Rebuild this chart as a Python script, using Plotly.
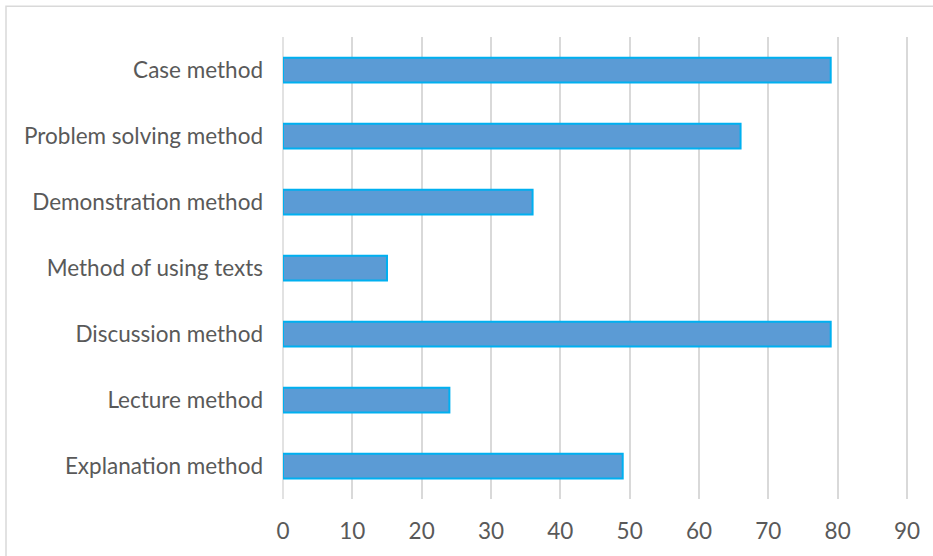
import plotly.graph_objects as go

categories = ["Explanation method", "Lecture method", "Discussion method",
              "Method of using texts", "Demonstration method",
              "Problem solving method", "Case method"]
values = [49, 24, 79, 15, 36, 66, 79]
x_ticks = [0, 10, 20, 30, 40, 50, 60, 70, 80, 90]

W, H = 933, 556
L, R, T, B = 283, 25, 37, 52
pw, ph = W - L - R, H - T - B

fig = go.Figure(go.Bar(
    x=values, y=categories, orientation="h",
    marker=dict(color="#5B9BD5", line=dict(color="#00B0F0", width=2)),
))

font = dict(family="Lato, Liberation Sans, sans-serif", size=22.5, color="#595959")

fig.update_layout(
    width=W, height=H,
    margin=dict(l=L, r=R, t=T, b=B),
    paper_bgcolor="white", plot_bgcolor="white",
    bargap=0.625,
    showlegend=False,
    font=font,
    xaxis=dict(range=[0, 90.15], tickvals=x_ticks, showgrid=True,
               gridcolor="#D9D9D9", gridwidth=1.5, zeroline=False,
               showline=False, ticks="", ticklabelstandoff=16,
               tickfont=font, fixedrange=True),
    yaxis=dict(categoryorder="array", categoryarray=categories,
               showgrid=False, zeroline=False, showline=False,
               ticks="", ticklabelstandoff=19, tickfont=font,
               fixedrange=True),
    shapes=[
        dict(type="line", xref="paper", yref="paper",
             x0=0, x1=0, y0=0, y1=1,
             line=dict(color="#D9D9D9", width=1.5), layer="below"),
        dict(type="rect", xref="paper", yref="paper",
             x0=(6 - L) / pw, x1=(W + 10 - L) / pw,
             y0=-(B + 10) / ph, y1=1 + (T - 6) / ph,
             line=dict(color="#D9D9D9", width=1.5)),
    ],
)

fig.write_html("out.html")
